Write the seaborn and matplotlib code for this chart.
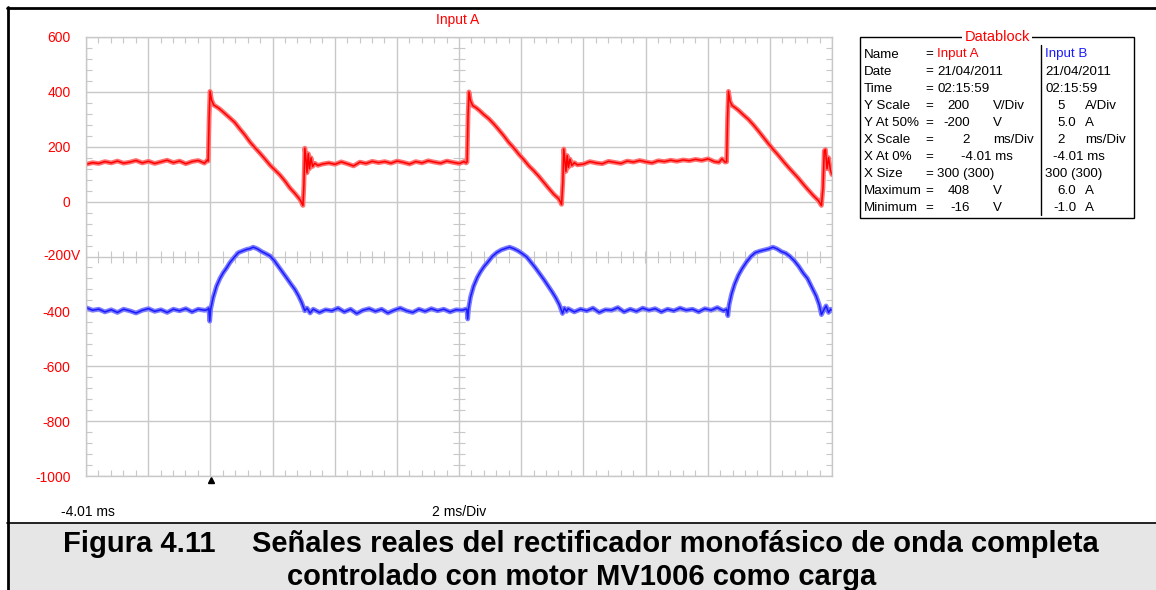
import numpy as np
import pandas as pd
import matplotlib.pyplot as plt
import seaborn as sns
import matplotlib.transforms as mtransforms
from matplotlib.patches import Rectangle
from matplotlib.lines import Line2D
from matplotlib.ticker import FixedLocator

# ---- Input A: voltage (V) vs time (ms)
red_t = [-4.01, -3.8, -3.6, -3.4, -3.2, -3.0, -2.8, -2.6, -2.4, -2.2, -2.0, -1.8, -1.6, -1.4, -1.2,
         -1.0, -0.8, -0.6, -0.4, -0.2, -0.1,
         -0.08, -0.05, -0.02, 0.03, 0.1, 0.2, 0.3, 0.45, 0.62, 0.78, 0.94, 1.1, 1.26, 1.42, 1.59, 1.75,
         1.91, 2.07, 2.23, 2.39, 2.55, 2.71, 2.87, 2.97, 3.0, 3.03, 3.07, 3.1, 3.14, 3.18, 3.23, 3.28,
         3.35, 3.45,
         3.6, 3.8, 4.0, 4.2, 4.4, 4.6, 4.8, 5.0, 5.2, 5.4, 5.6, 5.8, 6.0, 6.2, 6.4, 6.6, 6.8, 7.0, 7.2,
         7.4, 7.6, 7.8, 8.0, 8.15, 8.22,
         8.25, 8.28, 8.31, 8.36, 8.43, 8.53, 8.63, 8.78, 8.95, 9.11, 9.27, 9.43, 9.59, 9.75, 9.92,
         10.08, 10.24, 10.40, 10.56, 10.72, 10.88, 11.04, 11.20, 11.29, 11.33, 11.36, 11.40, 11.43,
         11.47, 11.51, 11.56, 11.62, 11.70, 11.80,
         12.0, 12.2, 12.4, 12.6, 12.8, 13.0, 13.2, 13.4, 13.6, 13.8, 14.0, 14.2, 14.4, 14.6, 14.8,
         15.0, 15.2, 15.4, 15.6, 15.8, 16.0, 16.2, 16.35, 16.45, 16.55,
         16.6, 16.63, 16.66, 16.71, 16.78, 16.88, 16.98, 17.13, 17.3, 17.46, 17.62, 17.78, 17.94,
         18.1, 18.27, 18.43, 18.59, 18.75, 18.91, 19.07, 19.23, 19.39, 19.55, 19.65, 19.70, 19.74,
         19.78, 19.83, 19.88, 19.94, 19.99]
red_v = [136, 142, 139, 146, 141, 148, 140, 144, 150, 141, 147, 139, 145, 151, 142,
         148, 138, 146, 150, 140, 152,
         148, 300, 402, 370, 352, 345, 337, 322, 305, 288, 265, 243, 218, 197, 176, 155,
         133, 115, 97, 75, 50, 30, 8, -14, 60, 195, 150, 105, 175, 120, 160, 128,
         140, 132,
         137, 141, 136, 145, 138, 130, 144, 139, 147, 142, 146, 140, 148, 143, 137, 146, 141, 149, 144,
         140, 148, 143, 139, 146, 141,
         145, 310, 400, 368, 350, 343, 334, 318, 302, 283, 262, 240, 216, 196, 172,
         152, 130, 112, 92, 70, 48, 27, 10, -10, 70, 192, 145, 110,
         168, 125, 155, 132, 142, 134,
         137, 146, 141, 138, 147, 143, 139, 148, 144, 150, 145, 141, 149, 146, 151,
         147, 152, 149, 154, 150, 156, 146, 143, 156, 144,
         145, 305, 402, 365, 350, 342, 333, 317, 300, 280, 258, 235, 212,
         190, 168, 146, 125, 105, 85, 63, 42, 22, 4, -14, 50, 185,
         190, 120, 160, 115, 98]

# ---- Input B: current (A) vs time (ms)
blue_t = [-4.01, -3.8, -3.6, -3.4, -3.2, -3.0, -2.8, -2.6, -2.4, -2.2, -2.0, -1.8, -1.6, -1.4, -1.2,
          -1.0, -0.8, -0.6, -0.4, -0.2, -0.1,
          -0.06, -0.03, 0.0, 0.08, 0.19, 0.3, 0.40, 0.5, 0.62, 0.75, 0.89, 1.02, 1.16, 1.27, 1.37,
          1.5, 1.64, 1.78, 1.91, 2.04, 2.18, 2.31, 2.44, 2.58, 2.71, 2.83, 2.93, 3.03, 3.1, 3.2,
          3.3, 3.5, 3.7, 3.9, 4.1, 4.3, 4.5, 4.7, 4.9, 5.1, 5.3, 5.5, 5.7, 5.9, 6.1, 6.3, 6.5, 6.7,
          6.9, 7.1, 7.3, 7.5, 7.7, 7.9, 8.1, 8.2,
          8.24, 8.27, 8.3, 8.36, 8.46, 8.58, 8.68, 8.8, 8.92, 9.06, 9.2, 9.35, 9.5, 9.62, 9.76, 9.9,
          10.03, 10.17, 10.3, 10.44, 10.58, 10.72, 10.85, 10.98, 11.1, 11.22, 11.32, 11.38, 11.45,
          11.5, 11.7, 11.9, 12.1, 12.3, 12.5, 12.7, 12.9, 13.1, 13.3, 13.5, 13.7, 13.9, 14.1, 14.3,
          14.5, 14.7, 14.9, 15.1, 15.3, 15.5, 15.7, 15.9, 16.1, 16.3, 16.5, 16.6,
          16.64, 16.68, 16.76, 16.86, 16.98, 17.1, 17.24, 17.38, 17.52, 17.68, 17.82, 17.96, 18.09,
          18.22, 18.36, 18.5, 18.64, 18.78, 18.92, 19.06, 19.2, 19.34, 19.48, 19.58, 19.65, 19.72,
          19.8, 19.88, 19.95, 19.99]
blue_a = [0.35, 0.1, 0.2, -0.05, 0.15, -0.1, 0.2, 0.05, -0.15, 0.1, 0.25, 0.0, 0.15, -0.1, 0.2,
          0.05, 0.25, -0.05, 0.2, 0.1, 0.15,
          0.3, -0.9, 0.2, 1.26, 2.3, 3.0, 3.5, 3.9, 4.44, 4.9, 5.35, 5.5, 5.65, 5.72, 5.85,
          5.7, 5.45, 5.25, 5.05, 4.65, 4.1, 3.6, 3.07, 2.5, 2.0, 1.4, 0.8, 0.05, 0.3, -0.15,
          0.2, -0.1, 0.15, 0.05, 0.3, -0.05, 0.2, -0.2, 0.1, 0.25, 0.0, 0.2, -0.15, 0.1, 0.3, 0.05,
          -0.1, 0.2, 0.0, 0.25, 0.05, 0.2, -0.05, 0.15, 0.1, 0.2,
          0.2, -0.7, 0.3, 1.3, 2.3, 3.1, 3.6, 4.1, 4.5, 5.0, 5.35, 5.6, 5.75, 5.85, 5.7, 5.5,
          5.25, 4.95, 4.5, 4.0, 3.45, 2.9, 2.35, 1.8, 1.25, 0.6, -0.2, 0.3, 0.0,
          0.25, -0.05, 0.2, 0.05, 0.3, -0.1, 0.15, 0.1, 0.35, -0.05, 0.2, 0.0, 0.3, 0.1, 0.25,
          -0.05, 0.2, 0.05, 0.3, 0.1, 0.2, -0.05, 0.25, 0.1, 0.35, 0.05, 0.2,
          -0.4, 0.6, 1.6, 2.5, 3.3, 3.9, 4.5, 5.0, 5.35, 5.5, 5.6, 5.7, 5.85,
          5.7, 5.45, 5.3, 5.0, 4.6, 4.1, 3.5, 3.0, 2.2, 1.4, 0.6, -0.3, 0.1,
          0.5, -0.1, 0.2, 0.1]

# ---- scope settings / datablock
x_start, ms_per_div, n_xdiv = -4.01, 2, 12
a_volts_per_div, a_at_50 = 200, -200
b_amps_per_div, b_at_50 = 5, 5.0
trigger_ms = 0.0
ytick_vals = [600, 400, 200, 0, -200, -400, -600, -800, -1000]
ytick_text = ['600', '400', '200', '0', '', '-400', '-600', '-800', '-1000']

block_rows = ['Name', 'Date', 'Time', 'Y Scale', 'Y At 50%', 'X Scale', 'X At 0%', 'X Size',
              'Maximum', 'Minimum']
chan_a = ['Input A', '21/04/2011', '02:15:59', '200', '-200', '2', '-4.01', '300 (300)', '408', '-16']
unit_a = ['', '', '', 'V/Div', 'V', 'ms/Div', 'ms', '', 'V', 'V']
chan_b = ['Input B', '21/04/2011', '02:15:59', '5', '5.0', '2', '-4.01', '300 (300)', '6.0', '-1.0']
unit_b = ['', '', '', 'A/Div', 'A', 'ms/Div', 'ms', '', 'A', 'A']

caption_num = 'Figura 4.11'
caption_1 = 'Señales reales del rectificador monofásico de onda completa'
caption_2 = 'controlado con motor MV1006 como carga'

W, H = 1156, 590
RED, BLUE, GRID = '#ff0000', '#1a1aff', '#c8c8c8'

sns.set_theme(style='white')
plt.rcParams['font.family'] = ['Liberation Sans', 'DejaVu Sans']
plt.rcParams['text.color'] = 'black'


def fx(x):
    return x / W


def fy(y):
    return 1 - y / H


df_a = pd.DataFrame({'t': red_t, 'v': red_v})
df_b = pd.DataFrame({'t': blue_t, 'amps': blue_a})
# channel B drawn on channel A's grid (200 V/div <-> 5 A/div, both centred on 50%)
df_b['v'] = a_at_50 + (df_b['amps'] - b_at_50) * a_volts_per_div / b_amps_per_div

fig = plt.figure(figsize=(W / 100, H / 100), dpi=100, facecolor='white')
ax = fig.add_axes([fx(86), fy(476), (832 - 86) / W, (476 - 37) / H])

sns.lineplot(data=df_a, x='t', y='v', ax=ax, color='#ff7070', lw=3.4, estimator=None, sort=False)
sns.lineplot(data=df_a, x='t', y='v', ax=ax, color=RED, lw=1.1, estimator=None, sort=False)
sns.lineplot(data=df_b, x='t', y='v', ax=ax, color='#7a7aff', lw=3.4, estimator=None, sort=False)
sns.lineplot(data=df_b, x='t', y='v', ax=ax, color=BLUE, lw=1.1, estimator=None, sort=False)

x_end = x_start + n_xdiv * ms_per_div
ax.set_xlim(x_start, x_end)
ax.set_ylim(-1000, 600)
ax.set_xlabel('')
ax.set_ylabel('')

xmaj = np.arange(x_start, x_end + 0.01, ms_per_div)
xmin = np.arange(x_start, x_end + 0.01, ms_per_div / 5)
ymin = np.arange(-1000, 601, a_volts_per_div / 5)
ax.set_xticks(xmaj)
ax.set_xticklabels([])
ax.xaxis.set_minor_locator(FixedLocator(xmin))
ax.set_yticks(ytick_vals)
ax.set_yticklabels(ytick_text)
ax.yaxis.set_minor_locator(FixedLocator(ymin))
ax.tick_params(which='major', length=0, pad=11, labelsize=10, labelcolor=RED)
ax.tick_params(which='minor', direction='in', length=4.3, width=0.8, color=GRID,
               top=True, right=True, left=True, bottom=True)
ax.grid(True, which='major', color=GRID, lw=1)
for s in ax.spines.values():
    s.set_color(GRID)
    s.set_linewidth(1)

# centre cross with minor ticks
x_mid = x_start + n_xdiv / 2 * ms_per_div
ax.plot(xmin, np.full(len(xmin), a_at_50), ls='none', marker='|', ms=8.6, mew=0.8, color=GRID, zorder=0.5)
ax.plot(np.full(len(ymin), x_mid), ymin, ls='none', marker='_', ms=8.6, mew=0.8, color=GRID, zorder=0.5)

ax.annotate('-200V', xy=(0, a_at_50), xycoords=('axes fraction', 'data'), xytext=(-3.6, 0),
            textcoords='offset points', ha='right', va='center', color=RED, fontsize=10)

# trigger marker
trans = mtransforms.blended_transform_factory(ax.transData, ax.transAxes)
ax.plot([trigger_ms], [-0.008], transform=trans, marker='^', ms=4.5, color='black', clip_on=False)

fig.text(fx(458), fy(20), 'Input A', color=RED, fontsize=10, ha='center', va='center')
fig.text(fx(61), fy(512), '%.2f ms' % x_start, color='black', fontsize=10, ha='left', va='center')
fig.text(fx(459), fy(512), '%d ms/Div' % ms_per_div, color='black', fontsize=10, ha='center', va='center')

# datablock
fig.add_artist(Rectangle((fx(860), fy(218)), 274 / W, 181 / H, transform=fig.transFigure,
                         fill=False, ec='black', lw=1))
fig.add_artist(Line2D([fx(1041), fx(1041)], [fy(45), fy(215)], transform=fig.transFigure,
                      color='black', lw=1))
fig.text(fx(997), fy(37), 'Datablock', color=RED, fontsize=10.5, ha='center', va='center',
         bbox=dict(facecolor='white', edgecolor='none', pad=2), zorder=5)
fs = 9.6
for i, row in enumerate(block_rows):
    y = fy(54.5 + i * 17.05)
    fig.text(fx(864), y, row, fontsize=fs, ha='left', va='center', color='black')
    va_, ua, vb, ub = chan_a[i], unit_a[i], chan_b[i], unit_b[i]
    fig.text(fx(925), y, '=', fontsize=fs, ha='left', va='center', color='black')
    if ua == '':
        fig.text(fx(937), y, va_, fontsize=fs, ha='left', va='center',
                 color=RED if i == 0 else 'black')
        fig.text(fx(1045), y, vb, fontsize=fs, ha='left', va='center',
                 color=BLUE if i == 0 else 'black')
        continue
    if ua == 'ms':
        fig.text(fx(961), y, va_ + ' ' + ua, fontsize=fs, ha='left', va='center', color='black')
        fig.text(fx(1053), y, vb + ' ' + ub, fontsize=fs, ha='left', va='center', color='black')
        continue
    fig.text(fx(970), y, va_, fontsize=fs, ha='right', va='center', color='black')
    fig.text(fx(993), y, ua, fontsize=fs, ha='left', va='center', color='black')
    xb = 1053 if vb.startswith('-') else 1057
    fig.text(fx(xb), y, vb, fontsize=fs, ha='left', va='center', color='black')
    fig.text(fx(1085), y, ub, fontsize=fs, ha='left', va='center', color='black')

# page frame and caption band
fig.add_artist(Rectangle((fx(8), 0), (W - 8) / W, (H - 523) / H, transform=fig.transFigure,
                         facecolor='#e6e6e6', edgecolor='none', zorder=0))
fig.add_artist(Line2D([fx(7), 1], [fy(523), fy(523)], transform=fig.transFigure, color='black', lw=1.2))
fig.add_artist(Line2D([fx(7), 1], [fy(7.5), fy(7.5)], transform=fig.transFigure, color='black', lw=2))
fig.add_artist(Line2D([fx(7.5), fx(7.5)], [fy(7), 0], transform=fig.transFigure, color='black', lw=2))

fig.text(fx(63), fy(552), caption_num, fontsize=21, fontweight='bold', ha='left', va='baseline',
         color='black')
fig.text(fx(252), fy(552), caption_1, fontsize=21, fontweight='bold', ha='left', va='baseline',
         color='black')
fig.text(fx(582), fy(585), caption_2, fontsize=21, fontweight='bold', ha='center', va='baseline',
         color='black')

fig.savefig('out.png', dpi=100)
